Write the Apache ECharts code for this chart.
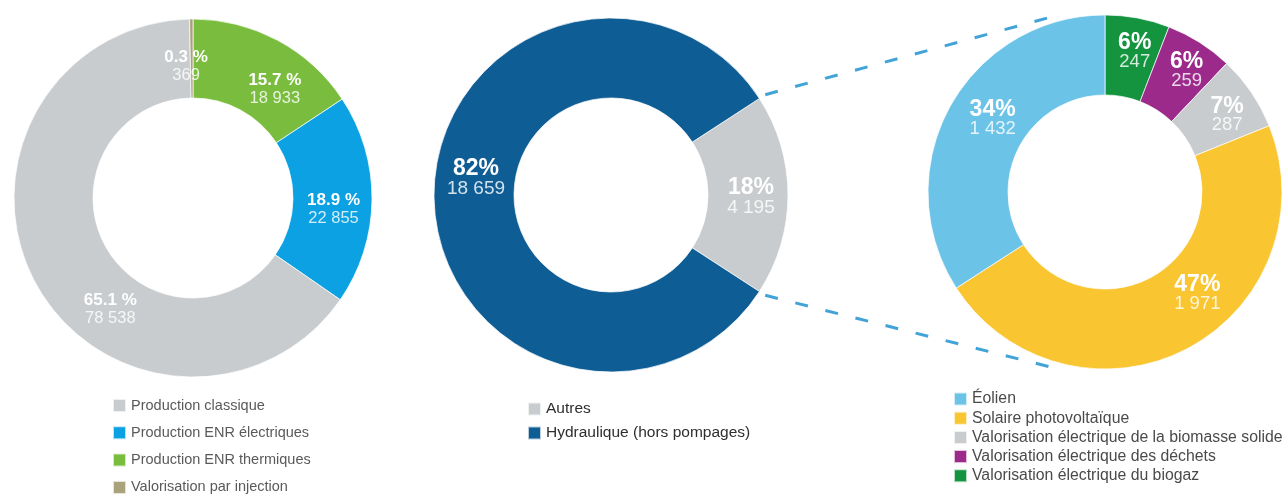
<!DOCTYPE html>
<html>
<head>
<meta charset="utf-8">
<script src="https://cdn.jsdelivr.net/npm/echarts@6/dist/echarts.min.js"></script>
<style>
  html, body { margin: 0; padding: 0; background: #ffffff; }
  #chart { width: 1285px; height: 495px; }
</style>
</head>
<body>
<div id="chart"></div>
<script>
// Production totale (anneau de gauche), dans l'ordre horaire depuis midi
const prodNames = ['Production ENR thermiques', 'Production ENR électriques', 'Production classique', 'Valorisation par injection'];
const prodValues = [18933, 22855, 78538, 369];
const prodColors = ['#7abd3e', '#0ba1e2', '#c9ccce', '#aaa27a'];
const prodLegend = ['Production classique', 'Production ENR électriques', 'Production ENR thermiques', 'Valorisation par injection'];

// Détail des ENR électriques (anneau central)
const enrNames = ['Autres', 'Hydraulique (hors pompages)'];
const enrValues = [4195, 18659];
const enrColors = ['#c9ccce', '#0f5d95'];
const enrLegend = ['Autres', 'Hydraulique (hors pompages)'];

// Détail de « Autres » (anneau de droite)
const autresNames = ['Valorisation électrique du biogaz', 'Valorisation électrique des déchets', 'Valorisation électrique de la biomasse solide', 'Solaire photovoltaïque', 'Éolien'];
const autresValues = [247, 259, 287, 1971, 1432];
const autresColors = ['#14943f', '#9b2a8b', '#c9ccce', '#f9c531', '#6cc3e8'];
const autresLegend = ['Éolien', 'Solaire photovoltaïque', 'Valorisation électrique de la biomasse solide', 'Valorisation électrique des déchets', 'Valorisation électrique du biogaz'];

const FONT = '"Liberation Sans", Arial, Helvetica, sans-serif';

// Ring geometry (pixels) and label anchors: [angle clockwise from 12 o'clock, radius]
const sum = a => a.reduce((s, v) => s + v, 0);
const midStart = enrValues[0] / sum(enrValues) * 180; // centre "Autres" on 3 o'clock
const rings = {
  left:  { cx: 193, cy: 198, r0: 100, r1: 179, start: 90, prec: 1, sep: ' %', pSize: 17, vSize: 16.5, lh: 18,
           spots: [[37, 136], [94.5, 141], [216.5, 139], [357, 132]] },
  mid:   { cx: 611, cy: 195, r0: 97, r1: 177, start: midStart, prec: 0, sep: '%', pSize: 23, vSize: 19, lh: 20,
           spots: [[91, 140], [276.8, 136]] },
  right: { cx: 1105, cy: 192, r0: 97, r1: 177, start: 90, prec: 0, sep: '%', pSize: 23, vSize: 18.5, lh: 19,
           spots: [[12, 143], [34, 146], [58, 144], [138, 138], [303, 134]] }
};

const fmtNum = v => String(v).replace(/\B(?=(\d{3})+(?!\d))/g, ' ');

function ringSeries(ring, names, values, colors) {
  const total = sum(values);
  return {
    type: 'pie',
    center: [ring.cx, ring.cy],
    radius: [ring.r0, ring.r1],
    startAngle: ring.start,
    clockwise: true,
    avoidLabelOverlap: false,
    animation: false,
    z: 3,
    emphasis: { disabled: true },
    itemStyle: { borderColor: 'rgba(255,255,255,0.7)', borderWidth: 1 },
    label: {
      show: true,
      position: 'inside',
      formatter: p => '{p|' + (p.value / total * 100).toFixed(ring.prec) + ring.sep + '}\n{v|' + fmtNum(p.value) + '}',
      rich: {
        p: { fontFamily: FONT, fontSize: ring.pSize, fontWeight: 'bold', color: '#ffffff', lineHeight: ring.lh, align: 'center' },
        v: { fontFamily: FONT, fontSize: ring.vSize, color: 'rgba(255,255,255,0.82)', lineHeight: ring.lh, align: 'center' }
      }
    },
    labelLine: { show: false },
    labelLayout: params => {
      const s = ring.spots[params.dataIndex];
      const a = s[0] * Math.PI / 180;
      return { x: ring.cx + s[1] * Math.sin(a), y: ring.cy - s[1] * Math.cos(a), align: 'center', verticalAlign: 'middle' };
    },
    data: names.map((n, i) => ({ name: n, value: values[i], itemStyle: { color: colors[i] } }))
  };
}

// Dashed connectors from the "Autres" slice to the detail ring
function polar(ring, degCCW, r) {
  const a = degCCW * Math.PI / 180;
  return [ring.cx + r * Math.cos(a), ring.cy - r * Math.sin(a)];
}
const autresSweep = enrValues[0] / sum(enrValues) * 360;
const m = rings.mid, rr = rings.right;
const upA = polar(m, midStart, m.r1 + 7), upB = polar(rr, 105, rr.r1 + 6);
const loA = polar(m, midStart - autresSweep, m.r1 + 7), loB = polar(rr, -105, rr.r1 + 6);
const dashStyle = { stroke: '#42a3d8', lineWidth: 3, lineDash: [13, 18] };

function legendBox(data, left, top, gap, color, size) {
  return {
    type: 'plain', data, orient: 'vertical', left, top, height: 110, padding: 0, itemGap: gap,
    itemWidth: 13, itemHeight: 13, icon: 'rect', selectedMode: false,
    textStyle: { fontFamily: FONT, fontSize: size, color, lineHeight: 14 }
  };
}

const chart = echarts.init(document.getElementById('chart'), null, { renderer: 'canvas' });
chart.setOption({
  backgroundColor: '#ffffff',
  animation: false,
  legend: [
    legendBox(prodLegend, 112, 398, 12.3, '#5a5a5a', 14.5),
    legendBox(enrLegend, 527, 401, 8, '#2e2e2e', 15.5),
    legendBox(autresLegend, 953, 391, 3.2, '#4a4a4a', 15.8)
  ],
  graphic: [
    { type: 'line', z: 0, shape: { x1: upA[0], y1: upA[1], x2: upB[0], y2: upB[1] }, style: dashStyle, silent: true },
    { type: 'line', z: 0, shape: { x1: loA[0], y1: loA[1], x2: loB[0], y2: loB[1] }, style: dashStyle, silent: true }
  ],
  series: [
    ringSeries(rings.left, prodNames, prodValues, prodColors),
    ringSeries(rings.mid, enrNames, enrValues, enrColors),
    ringSeries(rings.right, autresNames, autresValues, autresColors)
  ]
});
</script>
</body>
</html>
